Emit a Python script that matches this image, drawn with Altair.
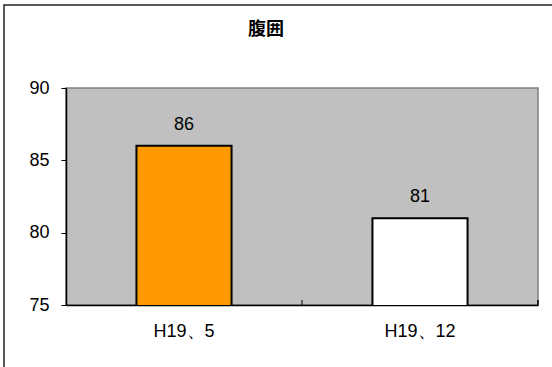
import altair as alt
import pandas as pd

# Waist circumference at two check-ups
periods = ["H19、5", "H19、12"]
waist = [86, 81]
bar_colors = ["#FF9900", "#FFFFFF"]
y_ticks = [75, 80, 85, 90]
title_text = "腹囲"

df = pd.DataFrame({"period": periods, "waist": waist, "color": bar_colors})

W, H = 472, 217
FONT = "Liberation Sans"

x_enc = alt.X(
    "period:N",
    sort=periods,
    scale=alt.Scale(paddingInner=0, paddingOuter=0),
    axis=alt.Axis(
        title=None, labelAngle=0, ticks=False, tickSize=0, labelPadding=17,
        labelFontSize=18, labelFont=FONT, labelColor="#000000",
        domainColor="#000000", domainWidth=1.5, grid=False,
    ),
)
y_enc = alt.Y(
    "waist:Q",
    scale=alt.Scale(domain=[75, 90], nice=False, zero=False),
    axis=alt.Axis(
        title=None, values=y_ticks, tickSize=5, tickColor="#000000",
        labelPadding=12, labelFontSize=18, labelFont=FONT, labelColor="#000000",
        domainColor="#000000", domainWidth=1.5, grid=False,
    ),
)

base = alt.Chart(df)

bars = base.mark_bar(
    width=alt.RelativeBandSize(0.403), stroke="#000000", strokeWidth=2, clip=True
).encode(x=x_enc, y=y_enc, fill=alt.Fill("color:N", scale=None))

labels = base.mark_text(
    baseline="middle", dy=-21, fontSize=18, font=FONT, color="#000000"
).encode(x=alt.X("period:N", sort=periods), y="waist:Q", text="waist:Q")

# category-boundary tick marks pointing into the plot
last = base.transform_filter(alt.datum.period == periods[-1])
tick_mid = last.mark_rule(color="#000000", strokeWidth=1).encode(
    x=alt.X("period:N", sort=periods, bandPosition=0),
    y=alt.value(H - 5), y2=alt.value(H),
)
tick_end = last.mark_rule(color="#000000", strokeWidth=1.5).encode(
    x=alt.X("period:N", sort=periods, bandPosition=1),
    y=alt.value(H - 5), y2=alt.value(H),
)

title = alt.Chart(pd.DataFrame({"t": [title_text]})).mark_text(
    fontSize=18, fontWeight="bold", font="Noto Sans CJK JP", color="#000000",
    baseline="middle", align="center",
).encode(x=alt.value(200), y=alt.value(-58), text="t:N")

frame = alt.Chart(pd.DataFrame({"f": [0]})).mark_rect(
    fill=None, stroke="#222222", strokeWidth=1.5
).encode(x=alt.value(-62), x2=alt.value(620), y=alt.value(-83), y2=alt.value(420))

chart = (
    alt.layer(bars, labels, tick_mid, tick_end, title, frame)
    .properties(
        width=W, height=H,
        autosize=alt.AutoSizeParams(type="none"),
        padding={"left": 66, "top": 88, "right": 14, "bottom": 62},
        background="#FFFFFF",
    )
    .configure_view(fill="#C0C0C0", stroke="#808080", strokeWidth=1.5)
)

chart.save("out.html", embed_options={"renderer": "svg", "actions": False})
